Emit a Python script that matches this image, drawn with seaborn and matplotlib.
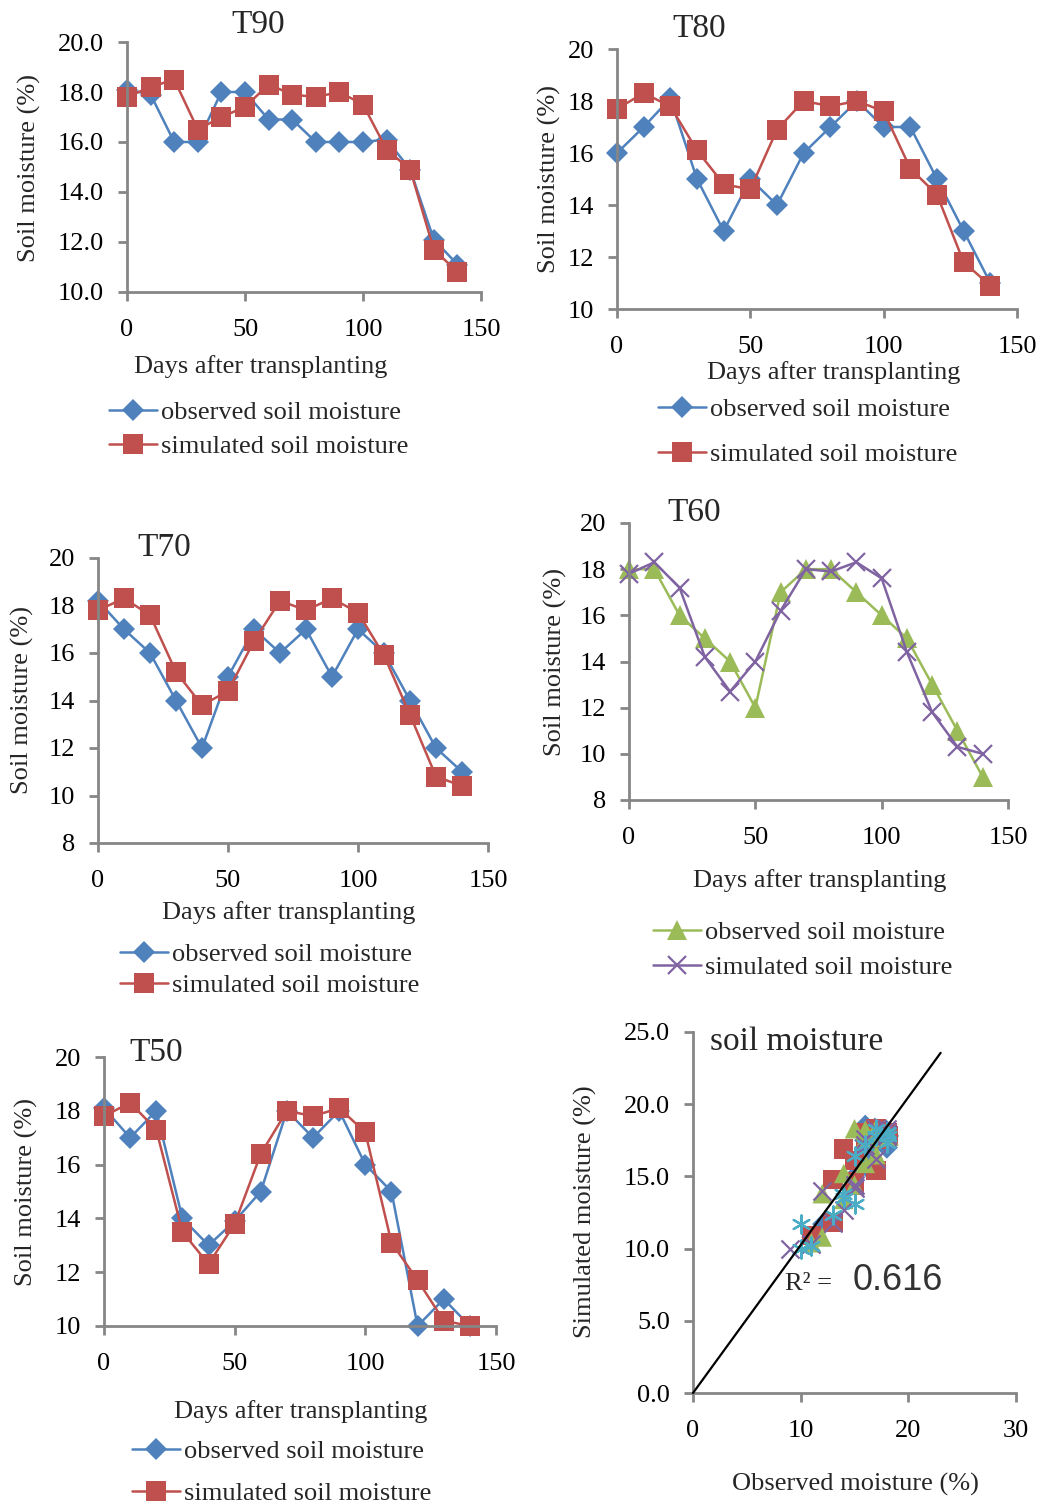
import matplotlib
matplotlib.use("Agg")
import numpy as np
import matplotlib.pyplot as plt
import seaborn as sns

# ---- data ----
days = [0, 10, 20, 30, 40, 50, 60, 70, 80, 90, 100, 110, 120, 130, 140]

t90_obs = [18.1, 17.9, 16.0, 16.0, 18.0, 18.0, 16.9, 16.9, 16.0, 16.0, 16.0, 16.1, 14.9, 12.1, 11.1]
t90_sim = [17.8, 18.2, 18.5, 16.5, 17.0, 17.4, 18.3, 17.9, 17.8, 18.0, 17.5, 15.7, 14.9, 11.7, 10.8]

t80_obs = [16.0, 17.0, 18.1, 15.0, 13.0, 15.0, 14.0, 16.0, 17.0, 18.0, 17.0, 17.0, 15.0, 13.0, 11.0]
t80_sim = [17.7, 18.3, 17.8, 16.1, 14.8, 14.6, 16.9, 18.0, 17.8, 18.0, 17.6, 15.4, 14.4, 11.8, 10.9]

t70_obs = [18.2, 17.0, 16.0, 14.0, 12.0, 15.0, 17.0, 16.0, 17.0, 15.0, 17.0, 16.0, 14.0, 12.0, 11.0]
t70_sim = [17.8, 18.3, 17.6, 15.2, 13.8, 14.4, 16.5, 18.2, 17.8, 18.3, 17.7, 15.9, 13.4, 10.8, 10.4]

t60_obs = [18.0, 18.0, 16.0, 15.0, 14.0, 12.0, 17.0, 18.0, 18.0, 17.0, 16.0, 15.0, 13.0, 11.0, 9.0]
t60_sim = [17.8, 18.3, 17.2, 14.2, 12.7, 14.0, 16.2, 18.0, 17.9, 18.3, 17.6, 14.4, 11.8, 10.3, 10.0]

t50_obs = [18.1, 17.0, 18.0, 14.0, 13.0, 13.9, 15.0, 18.0, 17.0, 18.0, 16.0, 15.0, 10.0, 11.0, 10.0]
t50_sim = [17.8, 18.3, 17.3, 13.5, 12.3, 13.8, 16.4, 18.0, 17.8, 18.1, 17.2, 13.1, 11.7, 10.2, 10.0]

r2_label = "0.616"
fit_x_end = 23  # extent of the trend line

# ---- style ----
W, H = 1048, 1506
BLUE, RED, GREEN, PURPLE, CYAN = "#4F81BD", "#C0504D", "#9BBB59", "#8064A2", "#4BACC6"
AXIS = "#868686"
FS = 19

sns.set_theme(style="ticks")
plt.rcParams["font.family"] = ["Liberation Serif", "DejaVu Serif"]

fig = plt.figure(figsize=(W / 100, H / 100), dpi=100)


def fx(x):
    return x / W


def fy(y):
    return 1 - y / H


def add_panel(left, right, top, bottom):
    return fig.add_axes([fx(left), fy(bottom), (right - left) / W, (bottom - top) / H])


def style_axis(ax, ylim, yticks, yfmt, xlim=(0, 150), xticks=(0, 50, 100, 150)):
    ax.set_xlim(xlim)
    ax.set_ylim(ylim)
    ax.set_xticks(list(xticks))
    ax.set_yticks(list(yticks))
    ax.set_yticklabels([yfmt.format(v) for v in yticks])
    sns.despine(ax=ax)
    for s in ["left", "bottom"]:
        ax.spines[s].set_color(AXIS)
        ax.spines[s].set_linewidth(2)
    ax.tick_params(direction="out", length=6.5, width=2, color=AXIS,
                   labelsize=FS, labelcolor="black")
    ax.tick_params(axis="x", pad=13)
    ax.tick_params(axis="y", pad=10)
    ax.grid(False)


def place_labels(ax, title, title_xy, xlabel, xlabel_xy, ylabel, ylabel_xy, title_size=24):
    ax.text(fx(title_xy[0]), fy(title_xy[1]), title, transform=fig.transFigure,
            ha="center", va="center", fontsize=title_size)
    ax.set_xlabel(xlabel, fontsize=FS)
    ax.xaxis.set_label_coords(fx(xlabel_xy[0]), fy(xlabel_xy[1]), transform=fig.transFigure)
    ax.xaxis.label.set_va("center")
    ax.set_ylabel(ylabel, fontsize=FS)
    ax.yaxis.set_label_coords(fx(ylabel_xy[0]), fy(ylabel_xy[1]), transform=fig.transFigure)
    ax.yaxis.label.set_va("center")


def draw_series(ax, obs, sim, obs_style, sim_style):
    sns.lineplot(x=days, y=obs, ax=ax, label="observed soil moisture", clip_on=False, **obs_style)
    sns.lineplot(x=days, y=sim, ax=ax, label="simulated soil moisture", clip_on=False, **sim_style)
    if ax.get_legend() is not None:
        ax.get_legend().remove()


def add_legend(ax, x0, row1, row2, spacing):
    handles, labels = ax.get_legend_handles_labels()
    fig.legend(handles, labels, loc="center left",
               bbox_to_anchor=(fx(x0), fy((row1 + row2) / 2)),
               frameon=False, fontsize=FS, handlelength=1.82, handletextpad=0.15,
               labelspacing=spacing, borderpad=0, borderaxespad=0)


blue_style = dict(color=BLUE, marker="D", markersize=11.5, markeredgewidth=0, linewidth=1.8)
red_style = dict(color=RED, marker="s", markersize=14, markeredgewidth=0, linewidth=1.8)
green_style = dict(color=GREEN, marker="^", markersize=14, markeredgewidth=0, linewidth=1.8)
purple_style = dict(color=PURPLE, marker="x", markersize=13, markeredgewidth=1.6,
                    markeredgecolor=PURPLE, linewidth=1.8)

YLAB = "Soil moisture (%)"
XLAB = "Days after transplanting"

# ---- T90 ----
ax = add_panel(127, 481, 42, 292)
draw_series(ax, t90_obs, t90_sim, blue_style, red_style)
style_axis(ax, (10, 20), [10, 12, 14, 16, 18, 20], "{:.1f}")
place_labels(ax, "T90", (258, 25), XLAB, (261, 367), YLAB, (29, 168))
add_legend(ax, 109, 412, 447, 0.40)

# ---- T80 ----
ax = add_panel(617, 1017, 49, 309)
draw_series(ax, t80_obs, t80_sim, blue_style, red_style)
style_axis(ax, (10, 20), [10, 12, 14, 16, 18, 20], "{:.0f}")
place_labels(ax, "T80", (699, 29), XLAB, (834, 373), YLAB, (549, 179))
add_legend(ax, 658, 409, 455, 0.82)

# ---- T70 ----
ax = add_panel(98, 488, 558, 843)
draw_series(ax, t70_obs, t70_sim, blue_style, red_style)
style_axis(ax, (8, 20), [8, 10, 12, 14, 16, 18, 20], "{:.0f}")
place_labels(ax, "T70", (164, 548), XLAB, (289, 913), YLAB, (22, 700))
add_legend(ax, 120, 954, 986, 0.28)

# ---- T60 ----
ax = add_panel(629, 1008, 523, 800)
draw_series(ax, t60_obs, t60_sim, green_style, purple_style)
style_axis(ax, (8, 20), [8, 10, 12, 14, 16, 18, 20], "{:.0f}")
place_labels(ax, "T60", (694, 513), XLAB, (820, 881), YLAB, (555, 662))
add_legend(ax, 653, 932, 968, 0.44)

# ---- T50 ----
ax = add_panel(104, 496, 1057, 1326)
draw_series(ax, t50_obs, t50_sim, blue_style, red_style)
style_axis(ax, (10, 20), [10, 12, 14, 16, 18, 20], "{:.0f}")
place_labels(ax, "T50", (156, 1053), XLAB, (301, 1412), YLAB, (26, 1192))
add_legend(ax, 132, 1451, 1494, 0.70)

# ---- scatter: observed vs simulated ----
ax = add_panel(693, 1016, 1032, 1393)
pairs = [
    (t90_obs, t90_sim, BLUE, "D", 130, 0),
    (t80_obs, t80_sim, RED, "s", 196, 0),
    (t70_obs, t70_sim, GREEN, "^", 196, 0),
    (t60_obs, t60_sim, PURPLE, "x", 169, 1.6),
    (t50_obs, t50_sim, CYAN, (6, 2, 0), 169, 1.6),
]
for obs, sim, col, mk, size, lw in pairs:
    sns.scatterplot(x=obs, y=sim, ax=ax, color=col, marker=mk, s=size,
                    linewidth=lw, edgecolor=col if lw else "none", zorder=3)

all_obs = np.concatenate([p[0] for p in pairs])
all_sim = np.concatenate([p[1] for p in pairs])
slope = np.sum(all_obs * all_sim) / np.sum(all_obs ** 2)
sns.lineplot(x=[0, fit_x_end], y=[0, slope * fit_x_end], ax=ax, color="black",
             linewidth=1.6, zorder=4, clip_on=False)

style_axis(ax, (0, 25), [0, 5, 10, 15, 20, 25], "{:.1f}", xlim=(0, 30), xticks=(0, 10, 20, 30))
place_labels(ax, "soil moisture", (797, 1042), "Observed moisture (%)", (855, 1484),
             "Simulated moisture (%)", (585, 1212))
ax.text(fx(785), fy(1290), "R\u00b2 =", transform=fig.transFigure,
        ha="left", va="baseline", fontsize=FS)
ax.text(fx(853), fy(1290), r2_label, transform=fig.transFigure, ha="left", va="baseline",
        fontsize=26, family=["Liberation Sans", "DejaVu Sans"], color="#333333")

fig.savefig("out.png", dpi=100)
